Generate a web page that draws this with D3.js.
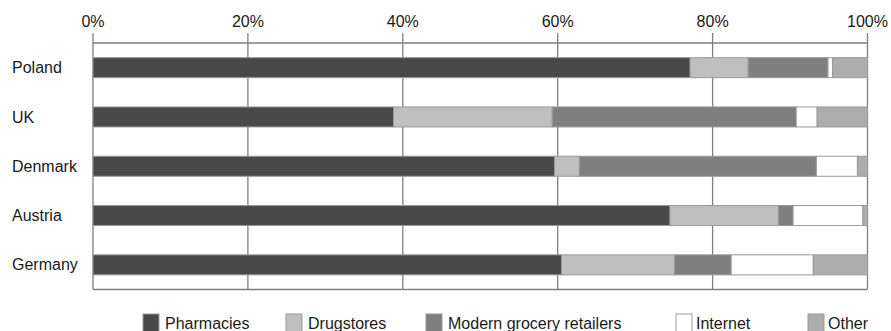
<!DOCTYPE html>
<html><head><meta charset="utf-8">
<script src="https://cdn.jsdelivr.net/npm/d3@7"></script>
<style>body{margin:0;background:#fff;} text{font-family:"Liberation Sans",Arial,sans-serif;fill:#1a1a1a;}</style>
</head><body>
<svg id="c" width="891" height="331"></svg>
<script>
const countries = ["Poland","UK","Denmark","Austria","Germany"];
const seriesNames = ["Pharmacies","Drugstores","Modern grocery retailers","Internet","Other"];
const pharmacies = [77.1, 38.8, 59.6, 74.5, 60.5];
const drugstores = [7.5, 20.5, 3.2, 14.0, 14.6];
const grocery    = [10.3, 31.5, 30.6, 1.9, 7.3];
const internet   = [0.6, 2.7, 5.3, 9.0, 10.6];
const other      = [4.5, 6.5, 1.3, 0.6, 7.0];
const tickValues = [0, 20, 40, 60, 80, 100];
const colors = ["#494949","#bfbfbf","#7f7f7f","#ffffff","#adadad"];

(function(){
const rows = countries.map((c,i)=>({country:c, Pharmacies:pharmacies[i], Drugstores:drugstores[i],
  "Modern grocery retailers":grocery[i], Internet:internet[i], Other:other[i]}));
const stack = d3.stack().keys(seriesNames)(rows);

const svg = d3.select("#c");
const mLeft = 93, mRight = 867.5, mTop = 43, mBottom = 289.5;
const x = d3.scaleLinear().domain([0,100]).range([mLeft,mRight]);
const y = d3.scaleBand().domain(countries).range([mTop,mBottom]).paddingInner(0.594).paddingOuter(0.297);
const color = d3.scaleOrdinal().domain(seriesNames).range(colors);

const g = svg.append("g");
g.selectAll("line.v").data(tickValues).join("line")
  .attr("x1",d=>x(d)).attr("x2",d=>x(d)).attr("y1",33).attr("y2",mBottom)
  .attr("stroke","#7f7f7f").attr("stroke-width",1.3);
g.append("line").attr("x1",mLeft).attr("x2",mRight).attr("y1",mTop).attr("y2",mTop).attr("stroke","#7f7f7f").attr("stroke-width",1.3);
g.append("line").attr("x1",mLeft).attr("x2",mRight).attr("y1",mBottom).attr("y2",mBottom).attr("stroke","#7f7f7f").attr("stroke-width",1.3);

g.selectAll("text.t").data(tickValues).join("text")
  .attr("x",d=>x(d)).attr("y",27).attr("text-anchor","middle").attr("font-size",16)
  .text(d=>d+"%");

svg.append("g").selectAll("g").data(stack).join("g")
  .attr("fill",d=>color(d.key))
  .selectAll("rect").data(d=>d).join("rect")
  .attr("x",d=>x(d[0])).attr("width",d=>x(d[1])-x(d[0]))
  .attr("y",d=>y(d.data.country)).attr("height",y.bandwidth())
  .attr("stroke","#9a9a9a").attr("stroke-width",1);

svg.append("g").selectAll("text").data(countries).join("text")
  .attr("x",12).attr("y",d=>y(d)+y.bandwidth()/2).attr("dy","0.35em").attr("font-size",16)
  .text(d=>d);

const legX = [143, 286, 426, 676, 808];
const leg = svg.append("g").selectAll("g").data(seriesNames).join("g")
  .attr("transform",(d,i)=>`translate(${legX[i]},314)`);
leg.append("rect").attr("width",16).attr("height",18).attr("fill",d=>color(d)).attr("stroke","#9a9a9a");
leg.append("text").attr("x",d=>d==="Internet"||d==="Other"?20:22).attr("y",15).attr("font-size",16).text(d=>d);
})();
</script>
</body></html>
